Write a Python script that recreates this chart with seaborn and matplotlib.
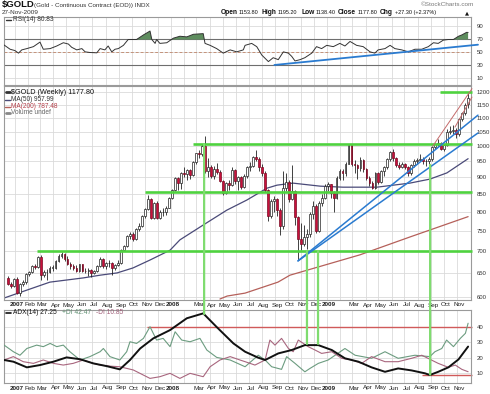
import numpy as np
import pandas as pd
import matplotlib
matplotlib.use('Agg')
import matplotlib.pyplot as plt
import seaborn as sns
from matplotlib.patches import ConnectionPatch
from matplotlib.lines import Line2D
from matplotlib.ticker import FixedLocator, NullLocator, NullFormatter, FixedFormatter

# ---------------- data ----------------
start_date = '2006-12-15'   # week index 0 (weekly candles, Fridays)

wk_open = [640, 628, 622, 638, 609, 627, 631, 648, 652, 666, 665, 686, 647, 652, 653, 663, 663, 677, 690, 694,
           682, 671, 667, 663, 655, 670, 656, 655, 657, 650, 656, 666, 682, 666, 673, 674, 662, 669, 673, 704,
           713, 738, 743, 731, 755, 763, 788, 807, 835, 785, 825, 783, 799, 800, 812, 840, 861, 897, 882, 913,
           911, 922, 908, 948, 975, 973, 1001, 920, 933, 904, 926, 917, 888, 853, 881, 876, 923, 888, 899, 871,
           904, 930, 935, 963, 957, 930, 914, 862, 788, 831, 836, 806, 764, 869, 885, 836, 858, 787, 730, 718,
           734, 743, 794, 817, 751, 824, 840, 873, 878, 853, 839, 898, 919, 913, 942, 1002, 942, 938, 929, 953,
           924, 898, 882, 869, 912, 885, 918, 930, 958, 979, 961, 937, 933, 940, 931, 912, 937, 951, 954, 957,
           949, 952, 956, 996, 1006, 1010, 991, 1004, 1050, 1052, 1056, 1040, 1095, 1119, 1153.8]
wk_high = [644, 631, 640, 642, 630, 636, 651, 656, 668, 672, 690, 692, 657, 660, 666, 668, 680, 694, 698, 697,
           689, 676, 672, 668, 672, 672, 662, 661, 660, 658, 668, 686, 684, 676, 680, 676, 672, 680, 706, 716,
           740, 748, 748, 758, 770, 792, 810, 848, 838, 828, 830, 806, 810, 815, 842, 866, 900, 900, 916, 930,
           925, 926, 950, 978, 988, 1008, 1033, 960, 938, 935, 945, 922, 890, 886, 892, 930, 926, 904, 902, 910,
           935, 948, 966, 988, 962, 940, 918, 866, 835, 843, 838, 812, 918, 912, 890, 938, 862, 790, 770, 765,
           756, 800, 830, 821, 830, 850, 878, 885, 880, 858, 905, 925, 925, 948, 1007, 1004, 954, 940, 962, 958,
           928, 902, 888, 915, 916, 922, 935, 960, 982, 990, 965, 946, 948, 944, 934, 940, 956, 960, 972, 962,
           956, 962, 1000, 1010, 1025, 1015, 1008, 1060, 1070, 1072, 1062, 1100, 1120, 1155, 1195.2]
wk_low = [624, 618, 620, 606, 603, 622, 628, 645, 650, 660, 663, 636, 642, 636, 650, 655, 660, 675, 684, 678,
          668, 660, 658, 652, 652, 652, 650, 645, 642, 648, 654, 664, 662, 660, 664, 646, 658, 666, 672, 700,
          711, 730, 726, 728, 750, 760, 785, 805, 780, 782, 780, 782, 790, 792, 810, 836, 858, 862, 866, 900,
          890, 895, 905, 940, 960, 968, 914, 900, 898, 895, 910, 884, 846, 850, 862, 872, 878, 862, 864, 868,
          896, 920, 930, 950, 920, 905, 856, 776, 784, 800, 790, 741, 755, 860, 828, 832, 765, 680, 704, 712,
          705, 735, 780, 745, 748, 815, 835, 860, 838, 800, 835, 890, 890, 905, 940, 935, 914, 895, 918, 916,
          892, 872, 865, 866, 880, 882, 905, 926, 952, 952, 930, 924, 928, 926, 905, 908, 930, 940, 952, 940,
          934, 940, 950, 990, 1000, 985, 982, 1000, 1040, 1040, 1026, 1036, 1090, 1112, 1138.4]
wk_close = [628, 622, 638, 609, 627, 631, 648, 652, 666, 665, 686, 647, 652, 653, 663, 663, 677, 690, 694, 682,
            671, 667, 663, 655, 670, 656, 655, 657, 650, 656, 666, 682, 666, 673, 674, 662, 669, 673, 704, 713,
            738, 743, 731, 755, 763, 788, 807, 835, 785, 825, 783, 799, 800, 812, 840, 861, 897, 882, 913, 911,
            922, 908, 948, 975, 973, 1001, 920, 933, 904, 926, 917, 888, 853, 881, 876, 923, 888, 899, 871, 904,
            930, 935, 963, 957, 930, 914, 862, 788, 831, 836, 806, 764, 869, 885, 836, 858, 787, 730, 718, 734,
            743, 794, 817, 751, 824, 840, 873, 878, 853, 839, 898, 919, 913, 942, 1002, 942, 938, 929, 953, 924,
            898, 882, 869, 912, 885, 918, 930, 958, 979, 961, 937, 933, 940, 931, 912, 937, 951, 954, 957, 949,
            952, 956, 996, 1006, 1010, 991, 1004, 1050, 1052, 1056, 1040, 1095, 1119, 1150, 1177.8]

ma50_week = [-1.2, 14.1, 25.2, 30.9, 36.6, 41.9, 47.6, 54.3, 57.6, 65.3, 73.3, 80.0, 86.7, 90.1, 95.4,
             104.5, 112.1, 123.5, 134.5, 141.2, 146.9, 154.0]
ma50_val = [598, 631, 640, 646, 651, 662, 680, 703, 728, 765, 805, 833, 867, 876, 882,
            873, 870, 870, 882, 894, 913, 957.99]
ma200_week = [71.0, 73.4, 79.4, 90.4, 94.4, 117.8, 134.5, 154.0]
ma200_val = [596, 602, 608, 631, 646, 692, 735, 787.48]

rsi_week = [-1.2, 0.8, 2.4, 3.6, 4.7, 6.4, 8.6, 10.8, 11.9, 14.2, 16.4, 18.6, 20.3, 21.4, 23.1, 24.8, 25.9,
            27.5, 29.8, 30.9, 32.5, 33.6, 34.8, 35.9, 37.0, 38.7, 40.3, 43.1, 45.4, 47.6, 48.2, 49.3, 49.8,
            50.9, 53.2, 55.4, 57.6, 59.9, 62.1, 65.4, 66.0, 67.7, 69.9, 72.1, 74.4, 76.6, 78.8, 79.4, 81.6,
            83.3, 85.0, 87.2, 88.8, 90.5, 92.2, 93.9, 95.0, 96.1, 97.8, 99.4, 101.7, 103.3, 105.0, 106.7,
            108.9, 111.1, 112.8, 114.5, 116.7, 118.9, 121.2, 122.8, 123.9, 126.2, 127.9, 129.5, 131.8, 134.0,
            136.2, 138.5, 140.7, 142.4, 144.0, 145.7, 147.4, 149.1, 150.8, 151.9, 153.5, 154.0]
rsi_val = [61.5, 55, 53, 49, 54, 56, 59, 66, 55, 56, 60, 65, 63, 58, 54, 56, 51,
           50, 49.5, 56, 54, 60, 51, 55, 56, 61, 70, 70, 77, 83, 70, 64, 70,
           64, 65, 72, 75, 74, 78, 79, 64, 61, 56, 49, 54, 51, 54, 61, 64,
           59, 46, 36, 42, 39, 51, 49, 44, 37, 39, 42, 49, 59, 56, 61,
           59, 64, 60, 67, 61, 59, 51, 49, 54, 56, 61, 56, 54, 51,
           55, 55, 59, 65, 64, 69, 70, 70, 75, 77, 81, 80.83]

adx_week = [-1.2, 1.9, 6.4, 10.8, 15.3, 19.7, 24.2, 28.6, 33.1, 37.5, 40.9, 44.3, 48.7, 54.3, 59.9, 65.4,
            69.9, 75.5, 79.4, 83.8, 86.1, 90.5, 95.0, 99.4, 103.9, 108.4, 112.8, 117.3, 121.7, 126.2, 130.6,
            135.1, 139.6, 141.2, 144.0, 147.4, 150.8, 154.0]
adx_val = [18.5, 17.4, 13.7, 15.2, 17.4, 20.2, 19, 16.3, 14.5, 12.4, 18.5, 26, 32.6, 38, 45.7, 48.9,
           40, 29.3, 23.9, 20, 18.5, 22.8, 25, 28.2, 28.2, 25, 19.6, 17.4, 13.7, 10.8, 13,
           11.7, 9.8, 8.7, 10.8, 13.7, 18.9, 27.25]
pdi_week = [-1.2, 1.9, 4.1, 6.4, 9.7, 11.9, 14.2, 16.4, 18.6, 20.8, 24.2, 27.5, 30.9, 32.0, 34.2, 37.5,
            39.8, 40.9, 43.1, 45.4, 47.6, 49.8, 52.0, 54.3, 56.0, 58.2, 61.0, 64.3, 66.6, 69.9, 74.4, 79.4,
            83.8, 86.1, 88.3, 91.6, 93.3, 96.1, 99.4, 101.1, 103.9, 107.2, 112.8, 116.2, 121.7, 126.2,
            130.6, 136.2, 141.2, 142.9, 145.2, 146.8, 149.1, 151.4, 153.1, 154.0]
pdi_val = [28.2, 23.9, 21.6, 26, 28.2, 27.2, 29.3, 27.2, 28.2, 23.9, 18.5, 20.7, 23.9, 26, 20.7, 18.5,
           23.9, 30.4, 29.3, 32.6, 40.2, 31.5, 32.6, 27.2, 36.9, 31.5, 30.4, 32.6, 25, 20.2, 18.5, 14.1,
           21.6, 18.5, 14.1, 12.4, 20.7, 16.3, 10.8, 13, 16.3, 18.5, 26, 21.6, 19.6, 23.9,
           19.6, 21.6, 20.7, 23.9, 26, 31.5, 27.2, 32.6, 35.9, 42.47]
mdi_week = [-1.2, 1.9, 5.2, 8.6, 11.9, 15.3, 18.6, 21.9, 25.3, 28.6, 30.9, 34.2, 37.5, 42.0, 47.6, 50.9,
            54.3, 57.6, 61.0, 65.4, 67.7, 71.0, 74.4, 77.7, 79.4, 82.7, 86.1, 87.7, 89.4, 91.6, 93.9, 95.5,
            97.2, 98.9, 100.5, 102.8, 105.0, 108.4, 111.7, 115.1, 118.4, 121.7, 126.2, 130.6, 135.1, 138.5,
            141.2, 144.0, 147.4, 149.7, 151.9, 154.0]
mdi_val = [18.5, 20.7, 17.4, 16.3, 18.5, 16.3, 15.2, 16.3, 18.5, 16.3, 15.2, 14.5, 14.1, 12, 6.5, 7.6,
           9.8, 6.5, 9.8, 7.6, 14.1, 18.5, 20.7, 18.5, 17.4, 15.2, 18.5, 31.5, 28.2, 32.6, 26, 23.9,
           31.5, 29.3, 27.2, 25, 22.8, 23.9, 19.6, 18.5, 16.3, 20.7, 17.4, 17.4, 19.6, 21.6,
           19, 16.3, 13.7, 15.2, 12.4, 10.85]

# annotation levels drawn on the chart
green_h_level = [1200, 1006, 856, 701]
green_h_from = [144.6, 62.0, 45.9, 9.8]
green_v_week = [65.7, 100.1, 103.8, 141.3]
green_v_price = [1006, 701, 701, 938]
green_v_adx = [48.5, 29.0, 29.0, 9.0]
blue_px_week = [97.1, 157.3]
blue_px_a = [678, 1110]
blue_px_b = [678, 1045]
red_up_week = [142.2, 155.3]
red_up_val = [1000, 1214]
red_lo_week = [149.6, 155.3]
red_lo_val = [1066, 1180]
rsi_trend_week = [89.2, 157.3]
rsi_trend_val = [30.8, 62]
adx_red_level = [40, 8.7]
adx_red_from = [46.6, 138.6]

price_ticks = [600, 650, 700, 750, 800, 850, 900, 950, 1000, 1050, 1100, 1150, 1200]
rsi_ticks = [10, 30, 50, 70, 90]
adx_ticks = [10, 20, 30, 40]

# ---------------- style ----------------
sns.set_style('white')
plt.rcParams['font.family'] = ['Liberation Sans', 'DejaVu Sans']

W, H = 490, 394
fig = plt.figure(figsize=(W / 100, H / 100), dpi=100)


def rect(x0, y0, x1, y1):
    return [x0 / W, 1 - y1 / H, (x1 - x0) / W, (y1 - y0) / H]


ax_rsi = fig.add_axes(rect(4, 17, 470.5, 85))
ax_px = fig.add_axes(rect(4, 86, 470.5, 300))
ax_adx = fig.add_axes(rect(4, 310, 470.5, 383))
XL = (-1.24, 154.8)

start = pd.Timestamp(start_date)
months = pd.date_range('2007-01-01', '2009-11-01', freq='MS')
mpos = [(m - start).days / 7 for m in months]
mlab = []
for m in months:
    if m.month == 1:
        mlab.append(str(m.year))
    elif m.month == 2 and m.year in (2008, 2009):
        mlab.append('')
    else:
        mlab.append(m.strftime('%b'))

GRID = '#dadada'
SPINE = '#9a9a9a'
LBL = '#333333'


def base(ax, ticks, labels, bottom_labels):
    ax.set_xlim(*XL)
    ax.set_xticks([p + 0.7 for p in mpos])
    ax.set_xticks(mpos, minor=True)
    if bottom_labels:
        ax.set_xticklabels(mlab)
        for t, s in zip(ax.get_xticklabels(), mlab):
            if s.isdigit():
                t.set_fontweight('bold')
    else:
        ax.set_xticklabels([])
    ax.yaxis.set_major_locator(FixedLocator(ticks))
    ax.yaxis.set_major_formatter(FixedFormatter(labels))
    ax.yaxis.set_minor_locator(NullLocator())
    ax.yaxis.set_minor_formatter(NullFormatter())
    ax.tick_params(axis='y', which='both', left=False, right=False, labelleft=False,
                   labelright=True, labelsize=4.3, pad=1.2, labelcolor=LBL)
    ax.tick_params(axis='x', which='both', length=0, labelsize=4.6, pad=1.8, labelcolor='#222222')
    ax.grid(False, axis='x', which='major')
    ax.grid(True, axis='x', which='minor', color=GRID, lw=0.6)
    ax.grid(True, axis='y', which='major', color=GRID, lw=0.6)
    ax.set_axisbelow(True)
    for s in ax.spines.values():
        s.set_color(SPINE)
        s.set_linewidth(0.8)
    ax.set_xlabel('')
    ax.set_ylabel('')


# ---------------- RSI panel ----------------
rv = np.array(rsi_val)
ax_rsi.fill_between(rsi_week, rv, 70, where=rv >= 70, interpolate=True, color='#5e8d5e', lw=0, zorder=2)
sns.lineplot(x=rsi_week, y=rsi_val, ax=ax_rsi, color='#333333', lw=0.7, estimator=None, sort=False, zorder=3)
ax_rsi.axhline(70, color='#6e6e6e', lw=0.8, zorder=1)
ax_rsi.axhline(30, color='#6e6e6e', lw=0.8, zorder=1)
ax_rsi.axhline(50, color='#c4927a', lw=0.7, ls=(0, (3, 2)), zorder=1)
ax_rsi.plot(rsi_trend_week, rsi_trend_val, color='#2a7bd0', lw=1.3, clip_on=False, zorder=4)
ax_rsi.set_ylim(0, 104.6)
base(ax_rsi, rsi_ticks, [str(t) for t in rsi_ticks], False)

# ---------------- price panel ----------------
ax_px.set_yscale('log')
wk = np.arange(len(wk_close))
o = np.array(wk_open, float)
c = np.array(wk_close, float)
hi = np.array(wk_high, float)
lo = np.array(wk_low, float)
up = c >= o
ax_px.vlines(wk, lo, hi, color='#222222', lw=0.6, zorder=3)
ax_px.bar(wk[up], np.maximum(c - o, 0.8)[up], bottom=o[up], width=0.62, color='white',
          edgecolor='#222222', lw=0.5, zorder=4)
ax_px.bar(wk[~up], np.maximum(o - c, 0.8)[~up], bottom=c[~up], width=0.62, color='#c8103c',
          edgecolor='#7a0a22', lw=0.5, zorder=4)

sns.lineplot(x=ma50_week, y=ma50_val, ax=ax_px, color='#4a4a78', lw=0.9, estimator=None, sort=False, zorder=2)
sns.lineplot(x=ma200_week, y=ma200_val, ax=ax_px, color='#b5605a', lw=0.9, estimator=None, sort=False, zorder=2)

for lev, x0 in zip(green_h_level, green_h_from):
    ax_px.hlines(lev, x0, 155.3, color='#4fd23f', lw=1.9, zorder=5, clip_on=False)
ax_px.plot(blue_px_week, blue_px_a, color='#2a7bd0', lw=1.1, clip_on=False, zorder=5)
ax_px.plot(blue_px_week, blue_px_b, color='#2a7bd0', lw=1.1, clip_on=False, zorder=5)
ax_px.plot(red_up_week, red_up_val, color='#c46a6a', lw=0.7, clip_on=False, zorder=5)
ax_px.plot(red_lo_week, red_lo_val, color='#c46a6a', lw=0.7, clip_on=False, zorder=5)
ax_px.set_ylim(594, 1225)
base(ax_px, price_ticks, [str(t) for t in price_ticks], True)

# ---------------- ADX panel ----------------
sns.lineplot(x=pdi_week, y=pdi_val, ax=ax_adx, color='#6c9c80', lw=0.8, estimator=None, sort=False, zorder=3)
sns.lineplot(x=mdi_week, y=mdi_val, ax=ax_adx, color='#a8667e', lw=0.8, estimator=None, sort=False, zorder=3)
sns.lineplot(x=adx_week, y=adx_val, ax=ax_adx, color='#111111', lw=1.4, estimator=None, sort=False, zorder=4)
for lev, x0 in zip(adx_red_level, adx_red_from):
    ax_adx.hlines(lev, x0, 155.3, color='#d05a5a', lw=1.0, zorder=2, clip_on=False)
ax_adx.set_ylim(3.5, 51.1)
base(ax_adx, adx_ticks, [str(t) for t in adx_ticks], True)

# green verticals joining price panel and ADX panel
for xw, pv, av in zip(green_v_week, green_v_price, green_v_adx):
    con = ConnectionPatch(xyA=(xw, pv), coordsA=ax_px.transData, xyB=(xw, av), coordsB=ax_adx.transData,
                          color='#7fdc6f', lw=1.6, zorder=6)
    fig.add_artist(con)


# ---------------- texts ----------------
def ftxt(x, y, s, **kw):
    fig.text(x / W, 1 - y / H, s, va='center', ha=kw.pop('ha', 'left'), **kw)


def fline(x0, x1, y, color, lw):
    fig.add_artist(Line2D([x0 / W, x1 / W], [1 - y / H, 1 - y / H], color=color, lw=lw))


ftxt(2, 5, '$GOLD', fontsize=6.8, fontweight='bold', color='#111111')
ftxt(34, 5.5, '(Gold - Continuous Contract (EOD)) INDX', fontsize=4.5, color='#333333')
ftxt(2, 12.5, '27-Nov-2009', fontsize=4.6, color='#333333')
ftxt(474, 4, '\u00a9StockCharts.com', fontsize=4.6, color='#777777', ha='right')

hdr = [(221, 'Open', True), (239, '1153.80', False), (261, 'High', True), (278, '1195.20', False),
       (301, 'Low', True), (316, '1138.40', False), (338, 'Close', True), (358, '1177.80', False),
       (380, 'Chg', True), (395, '+27.30 (+2.37%)', False)]
for x, s, b in hdr:
    ftxt(x, 12.5, s, fontsize=4.8 if b else 4.0, fontweight='bold' if b else 'normal', color='#111111')
ftxt(465, 12.5, '\u25b2', fontsize=3.8, color='#111111', family=['DejaVu Sans'])

# RSI legend
fline(6, 11, 19.5, '#333333', 1.0)
ftxt(13, 19.5, 'RSI(14) 80.83', fontsize=4.7, color='#333333')

# price legend
fline(6, 10, 92, '#333333', 2.0)
ftxt(11, 92, '$GOLD (Weekly) 1177.80', fontsize=5.2, color='#111111')
fline(5, 10, 99.5, '#4a4a78', 1.0)
ftxt(11, 99.5, 'MA(50) 957.99', fontsize=4.7, color='#333333')
fline(5, 10, 106.5, '#b5605a', 1.0)
ftxt(11, 106.5, 'MA(200) 787.48', fontsize=4.7, color='#b5404a')
fline(6, 10, 113, '#888888', 2.0)
ftxt(11, 113, 'Volume undef', fontsize=4.7, color='#666666')

# ADX legend
fline(6, 11, 313, '#111111', 1.2)
ftxt(13, 313, 'ADX(14) 27.25', fontsize=4.8, color='#111111')
ftxt(62, 313, '+DI 42.47', fontsize=4.8, color='#5f8f72')
ftxt(96, 313, '-DI 10.85', fontsize=4.8, color='#a0607a')

fig.savefig('out.png', dpi=100)
